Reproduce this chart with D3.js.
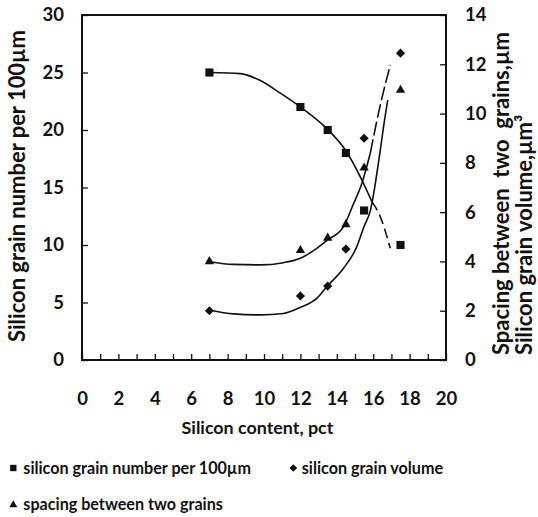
<!DOCTYPE html>
<html><head><meta charset="utf-8">
<script src="https://cdn.jsdelivr.net/npm/d3@7"></script>
<style>
body{margin:0;background:#fff}
text{font-family:Lato,"Open Sans",sans-serif;fill:#111}
</style>
</head><body>
<svg id="chart" width="538" height="517"></svg>
<script>
// ---- data ----
const siliconContent = [7, 12, 13.5, 14.5, 15.5, 17.5];
const grainNumber   = [25, 22, 20, 18, 13, 10];        // left axis
const grainVolume   = [2, 2.6, 3, 4.5, 9, 12.45];      // right axis
const grainSpacing  = [4, 4.45, 4.95, 5.5, 7.8, 10.95];// right axis

// trend curves
const numberFitX  = [7, 8.7, 9.8, 10.9, 12.0, 13.46, 14.47, 15.38, 15.93];
const numberFitY  = [25.0, 24.9, 24.3, 23.2, 22.0, 20.1, 18.26, 15.65, 13.77];
const numberDashX = [15.93, 16.39, 16.94];
const numberDashY = [13.77, 12.46, 9.71];

const spacingFitX  = [7, 8.33, 9.8, 11.07, 12.0, 12.9, 13.5, 14.37, 14.89, 15.38, 15.84];
const spacingFitY  = [3.99, 3.88, 3.86, 3.95, 4.13, 4.53, 4.87, 5.41, 6.29, 7.17, 8.39];
const spacingDashX = [15.84, 16.39, 16.94];
const spacingDashY = [8.39, 10.35, 11.97];

const volumeFitX = [7, 8.33, 9.8, 11.07, 12.0, 12.9, 13.46, 14.37, 15.1, 15.5, 15.84, 16.39, 16.57, 16.8];
const volumeFitY = [2.03, 1.87, 1.83, 1.89, 2.14, 2.5, 2.98, 3.72, 4.6, 5.42, 6.05, 8.52, 9.47, 10.55];

const xTickLabels     = [0, 2, 4, 6, 8, 10, 12, 14, 16, 18, 20];
const leftTickLabels  = [0, 5, 10, 15, 20, 25, 30];
const rightTickLabels = [0, 2, 4, 6, 8, 10, 12, 14];

const xTitle = "Silicon content, pct";
const leftTitle = "Silicon grain number per 100µm";
const rightTitle1 = "Spacing between  two  grains,µm";
const rightTitle2 = "Silicon grain volume,µm³";
const legendNames = ["silicon grain number per 100µm", "silicon grain volume", "spacing between two grains"];

// ---- layout ----
const svg = d3.select("#chart");
const L = 82, R = 446, T = 15, B = 360;
const x = d3.scaleLinear().domain([0, 20]).range([L, R]);
const yL = d3.scaleLinear().domain([0, 30]).range([B, T]);
const yR = d3.scaleLinear().domain([0, 14]).range([B, T]);

function fit(sel, w){
  const len = sel.node().getComputedTextLength();
  sel.attr("font-size", parseFloat(sel.attr("font-size")) * w / len);
}

// axes
const ax = svg.append("g").attr("transform", `translate(0,${B})`)
  .call(d3.axisBottom(x).tickValues(d3.range(0, 21, 1)).tickSize(-6).tickPadding(33)
        .tickFormat(d => xTickLabels.includes(d) ? d : ""));
const al = svg.append("g").attr("transform", `translate(${L},0)`)
  .call(d3.axisLeft(yL).tickValues(leftTickLabels).tickSize(-6).tickPadding(18));
const ar = svg.append("g").attr("transform", `translate(${R},0)`)
  .call(d3.axisRight(yR).tickValues(rightTickLabels).tickSize(-6).tickPadding(19));
[ax, al, ar].forEach(g => {
  g.select(".domain").remove();
  g.selectAll(".tick line").attr("stroke", "#111").attr("stroke-width", 1.3);
  g.selectAll(".tick text").attr("font-family", "Lato").attr("font-weight", 700)
    .attr("font-size", 18.5).attr("fill", "#111");
});
ax.selectAll(".tick text").attr("dy", null).attr("y", 45);

// frame
svg.append("rect").attr("x", L).attr("y", T).attr("width", R - L).attr("height", B - T)
  .attr("fill", "none").attr("stroke", "#111").attr("stroke-width", 2);

// curves
const line = (ys) => d3.line().x(d => x(d[0])).y(d => ys(d[1])).curve(d3.curveMonotoneX);
const zip = (a, b) => a.map((v, i) => [v, b[i]]);
const curves = [
  [zip(numberFitX, numberFitY), yL, null],
  [zip(numberDashX, numberDashY), yL, "10,5"],
  [zip(spacingFitX, spacingFitY), yR, null],
  [zip(spacingDashX, spacingDashY), yR, "14,4"],
  [zip(volumeFitX, volumeFitY), yR, null]
];
curves.forEach(([pts, ys, dash]) => {
  svg.append("path").attr("d", line(ys)(pts)).attr("fill", "none")
    .attr("stroke", "#111").attr("stroke-width", 1.6)
    .attr("stroke-dasharray", dash);
});

// markers
const sym = (type, size) => d3.symbol().type(type).size(size)();
const diamond = {draw(ctx, size){ const r = Math.sqrt(size / 2);
  ctx.moveTo(0, -r); ctx.lineTo(r, 0); ctx.lineTo(0, r); ctx.lineTo(-r, 0); ctx.closePath(); }};
svg.append("g").selectAll("path").data(zip(siliconContent, grainNumber)).join("path")
  .attr("d", sym(d3.symbolSquare, 66))
  .attr("transform", d => `translate(${x(d[0])},${yL(d[1])})`).attr("fill", "#111");
svg.append("g").selectAll("path").data(zip(siliconContent, grainVolume)).join("path")
  .attr("d", sym(diamond, 42))
  .attr("transform", d => `translate(${x(d[0])},${yR(d[1])})`).attr("fill", "#111");
svg.append("g").selectAll("path").data(zip(siliconContent, grainSpacing)).join("path")
  .attr("d", sym(d3.symbolTriangle, 38))
  .attr("transform", d => `translate(${x(d[0])},${yR(d[1])})`).attr("fill", "#111");

// titles
const xt = svg.append("text").attr("x", 257.5).attr("y", 433.5).attr("text-anchor", "middle")
  .attr("font-weight", 700).attr("font-size", 16).text(xTitle);
fit(xt, 152);
const lt = svg.append("text").attr("transform", "translate(25,186) rotate(-90)")
  .attr("text-anchor", "middle").attr("font-weight", 700).attr("font-size", 16).text(leftTitle);
fit(lt, 312);
const rt1 = svg.append("text").attr("transform", "translate(509,355) rotate(-90)")
  .attr("text-anchor", "start").attr("font-weight", 700).attr("font-size", 16)
  .style("white-space", "pre").text(rightTitle1);
fit(rt1, 323);
svg.append("text").attr("transform", "translate(531.5,355) rotate(-90)")
  .attr("text-anchor", "start").attr("font-weight", 700).attr("font-size", rt1.attr("font-size"))
  .text(rightTitle2);

// legend
const lg = svg.append("g");
const legendRows = [
  {name: legendNames[0], type: d3.symbolSquare, size: 40, mx: 13.3, my: 468, tx: 23.3, ty: 474},
  {name: legendNames[1], type: diamond, size: 30, mx: 293.3, my: 468, tx: 301.7, ty: 474},
  {name: legendNames[2], type: d3.symbolTriangle, size: 28, mx: 13.3, my: 505, tx: 23.3, ty: 510}
];
const t0 = lg.append("text").attr("font-size", 16).attr("font-weight", 700).text(legendNames[0]);
fit(t0, 228);
const lfs = t0.attr("font-size");
t0.remove();
legendRows.forEach(r => {
  lg.append("path").attr("d", sym(r.type, r.size)).attr("transform", `translate(${r.mx},${r.my})`).attr("fill", "#111");
  lg.append("text").attr("x", r.tx).attr("y", r.ty).attr("font-size", lfs).attr("font-weight", 700).text(r.name);
});
</script>
</body></html>
